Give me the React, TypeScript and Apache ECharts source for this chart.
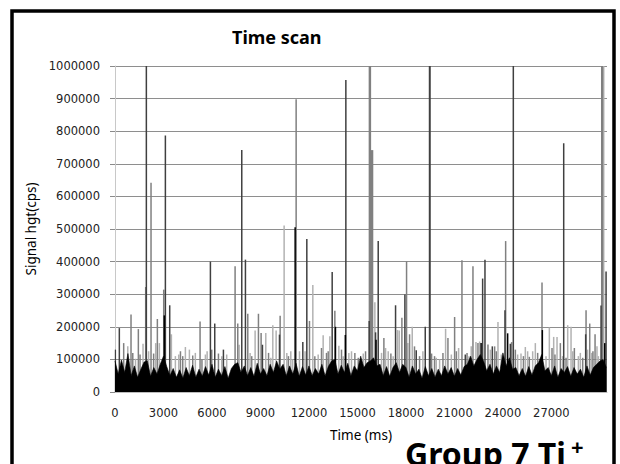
import React, { useEffect, useRef } from "react";
import * as echarts from "echarts";

const TITLE = "Time scan";
const X_NAME = "Time (ms)";
const Y_NAME = "Signal hgt(cps)";
const X_MAX = 30440;
const X_TICK_STEP = 3000;
const X_LABEL_LAST = 27000;
const Y_MAX = 1000000;
const Y_TICK_STEP = 100000;

// dense background signal, one reading every 200 ms starting at 0 ms
const BASE_STEP_MS = 200;
const baseNoise = [
  95000, 55000, 98000, 60000, 118000, 50000, 80000, 45000, 70000, 92000,
  96000, 48000, 75000, 55000, 85000, 110000, 78000, 50000, 72000, 45000,
  68000, 42000, 75000, 50000, 82000, 45000, 70000, 48000, 78000, 52000,
  85000, 45000, 70000, 50000, 78000, 42000, 72000, 85000, 90000, 60000,
  80000, 50000, 75000, 48000, 88000, 55000, 72000, 50000, 85000, 60000,
  95000, 70000, 85000, 50000, 80000, 55000, 88000, 48000, 78000, 52000,
  80000, 50000, 72000, 55000, 85000, 50000, 78000, 95000, 100000, 55000,
  82000, 60000, 88000, 50000, 80000, 65000, 110000, 75000, 90000, 95000,
  105000, 80000, 85000, 50000, 78000, 48000, 75000, 90000, 60000, 85000,
  75000, 45000, 80000, 55000, 70000, 42000, 78000, 50000, 72000, 45000,
  70000, 50000, 80000, 55000, 75000, 48000, 72000, 52000, 78000, 85000,
  110000, 80000, 100000, 115000, 95000, 65000, 85000, 55000, 80000, 60000,
  120000, 80000, 105000, 70000, 75000, 50000, 72000, 48000, 78000, 52000,
  80000, 90000, 115000, 65000, 75000, 50000, 80000, 45000, 72000, 60000,
  78000, 48000, 75000, 55000, 70000, 45000, 80000, 52000, 75000, 85000,
  95000, 100000, 75000,
];

// individual spikes [time ms, signal cps], grouped by how dark they print
const spikesLight: [number, number][] = [
  [3488, 177000], [1734, 148000], [2518, 150000], [2745, 150000], [4355, 138000],
  [4603, 130000], [3736, 110000], [3942, 115000], [5593, 115000], [1270, 102000],
  [790, 140000], [2080, 125000], [4970, 120000], [5700, 125000],
  [6605, 110000], [8359, 120000], [8669, 189000], [9329, 181000], [9763, 205000],
  [9969, 189000], [10464, 511000], [10630, 120000], [10877, 125000], [11414, 125000],
  [6910, 115000], [7680, 145000], [9640, 105000], [10990, 100000], [11760, 125000],
  [12239, 328000], [12879, 174000], [13292, 171000], [13849, 142000], [14468, 120000],
  [14633, 125000], [15253, 100000], [16078, 275000], [16491, 120000], [16904, 125000],
  [17482, 190000], [17585, 189000], [12570, 115000], [14120, 110000], [15360, 118000],
  [16740, 135000], [17210, 110000],
  [18390, 200000], [19876, 105000], [20083, 100000], [18120, 150000], [19050, 125000],
  [20454, 194000], [21259, 135000], [21899, 110000], [22333, 153000], [23695, 215000],
  [23901, 115000], [20810, 115000], [22040, 140000], [22560, 155000], [23220, 130000],
  [24912, 115000], [25119, 118000], [25387, 138000], [25841, 125000], [25530, 125000],
  [26006, 150000], [26667, 110000], [26873, 198000], [27141, 169000], [27348, 169000],
  [28008, 205000], [28215, 200000], [28669, 110000], [29495, 120000], [29907, 110000],
  [27690, 110000], [28320, 125000], [28790, 120000], [29240, 130000], [29820, 140000],
  [30237, 1050000],
];
const spikesMid: [number, number][] = [
  [1899, 322000], [2229, 642000], [3014, 314000], [991, 238000], [537, 150000],
  [1445, 193000], [2621, 224000], [4809, 112000], [5263, 216000], [5985, 130000],
  [1100, 120000], [1550, 115000], [2390, 118000], [4050, 125000], [4190, 110000],
  [5380, 100000],
  [7430, 386000], [7595, 210000], [8215, 240000], [8875, 240000], [9040, 181000],
  [10217, 234000], [11207, 898000], [12033, 218000], [12363, 110000], [12776, 135000],
  [6400, 118000], [8460, 110000], [9500, 120000], [10730, 110000],
  [13086, 120000], [13602, 249000], [14014, 130000], [14840, 120000], [15501, 125000],
  [13190, 125000], [15050, 105000],
  [15740, 1050000], [15800, 1050000], [15860, 742000], [15934, 742000], [16636, 166000],
  [17069, 118000], [17750, 228000], [18039, 401000], [18225, 177000], [18844, 110000],
  [18530, 140000], [19770, 110000], [20290, 120000], [21120, 125000], [21780, 120000],
  [19587, 118000], [20599, 166000], [21012, 230000], [21466, 404000], [22147, 386000],
  [22456, 150000], [23076, 146000], [23488, 140000], [24169, 463000], [24541, 153000],
  [23590, 125000], [24010, 110000], [24770, 130000], [25270, 110000], [26150, 120000],
  [25635, 108000], [26419, 336000], [27038, 135000], [27554, 150000], [27905, 105000],
  [28421, 135000], [28937, 105000], [29144, 251000], [29371, 210000], [29701, 177000],
  [27220, 115000], [29570, 125000],
  [30114, 1050000], [30160, 1050000],
];
const spikesDark: [number, number][] = [
  [1940, 1050000], [3117, 787000], [3385, 266000], [268, 196000], [20, 130000],
  [5903, 400000], [6171, 210000], [6708, 130000], [7843, 742000], [8070, 406000],
  [9123, 145000], [10176, 176000], [11620, 153000], [11868, 469000], [13437, 368000],
  [14283, 957000], [15728, 218000], [16120, 183000], [16285, 463000], [17358, 266000],
  [17936, 299000], [18638, 128000], [19195, 200000], [19460, 1050000], [19484, 1050000],
  [21672, 115000], [22745, 348000], [22890, 406000], [23344, 140000], [24128, 251000],
  [24458, 148000], [24644, 1050000], [27761, 763000], [29120, 177000], [30072, 265000],
  [30382, 370000],
];
const spikesBlack: [number, number][] = [
  [3050, 235000], [11146, 505000], [13640, 200000], [14250, 175000], [16150, 160000],
  [24293, 180000], [26440, 190000], [22650, 150000], [30300, 150000],
];

const COLORS = { light: "#b2b2b2", mid: "#808080", dark: "#404040", black: "#000000" };

export default function App() {
  const ref = useRef<HTMLDivElement>(null);
  useEffect(() => {
    document.body.style.margin = "0";
    if (!ref.current) return;
    const chart = echarts.init(ref.current, undefined, { renderer: "svg" });
    const spikeData = [
      ...spikesLight.map((d) => ({ value: d, itemStyle: { color: COLORS.light } })),
      ...spikesMid.map((d) => ({ value: d, itemStyle: { color: COLORS.mid } })),
      ...spikesDark.map((d) => ({ value: d, itemStyle: { color: COLORS.dark } })),
      ...spikesBlack.map((d) => ({ value: d, itemStyle: { color: COLORS.black } })),
    ];
    const baseData = baseNoise.map((v, i) => [i * BASE_STEP_MS, v]);
    const labelFont = { fontFamily: "DejaVu Sans", fontSize: 11.5, color: "#222" };
    chart.setOption({
      animation: false,
      backgroundColor: "#fff",
      title: {
        text: TITLE,
        left: 227,
        top: 23,
        textStyle: { fontFamily: "Noto Sans", fontWeight: "bold", fontSize: 18, color: "#000" },
      },
      grid: { left: 115, right: 13, top: 66, bottom: 72, containLabel: false },
      xAxis: {
        type: "value",
        min: 0,
        max: X_MAX,
        interval: X_TICK_STEP,
        name: X_NAME,
        nameLocation: "middle",
        nameGap: 36,
        nameTextStyle: { fontFamily: "Noto Sans", fontSize: 13.5, color: "#000" },
        axisLine: { show: true, lineStyle: { color: "#bdbdbd" } },
        axisTick: { show: false },
        splitLine: { show: false },
        axisLabel: {
          ...labelFont,
          margin: 15,
          showMaxLabel: false,
          formatter: (v: number) => (v > X_LABEL_LAST ? "" : String(v)),
        },
      },
      yAxis: {
        type: "value",
        min: 0,
        max: Y_MAX,
        interval: Y_TICK_STEP,
        name: Y_NAME,
        nameLocation: "middle",
        nameGap: 68,
        nameTextStyle: { fontFamily: "Noto Sans", fontSize: 13.5, color: "#000" },
        axisLine: { show: true, lineStyle: { color: "#c8c8c8" } },
        axisTick: { show: true, length: 5, lineStyle: { color: "#8a8a8a" } },
        splitLine: { show: true, lineStyle: { color: "#8e8e8e", width: 1 } },
        axisLabel: { ...labelFont, margin: 15, formatter: (v: number) => String(v) },
      },
      series: [
        {
          type: "bar",
          data: spikeData,
          barWidth: 1.5,
          silent: true,
          clip: true,
          z: 2,
        },
        {
          type: "line",
          data: baseData,
          showSymbol: false,
          symbol: "none",
          silent: true,
          lineStyle: { color: "#000", width: 0.6 },
          areaStyle: { color: "#000", opacity: 1 },
          z: 3,
        },
      ],
      graphic: [
        {
          type: "rect",
          shape: { x: 12, y: 11, width: 602, height: 470 },
          style: { fill: "none", stroke: "#000", lineWidth: 3.5 },
          silent: true,
        },
        {
          type: "text",
          x: 405,
          y: 437,
          style: {
            text: "Group 7 Ti",
            font: "bold 32px 'Noto Sans'",
            fill: "#000",
            textVerticalAlign: "top",
          },
          silent: true,
        },
        {
          type: "text",
          x: 571,
          y: 435,
          style: {
            text: "+",
            font: "bold 22px 'Noto Sans'",
            fill: "#000",
            textVerticalAlign: "top",
          },
          silent: true,
        },
      ],
    });
    return () => chart.dispose();
  }, []);
  return <div ref={ref} style={{ width: 620, height: 464 }} />;
}
